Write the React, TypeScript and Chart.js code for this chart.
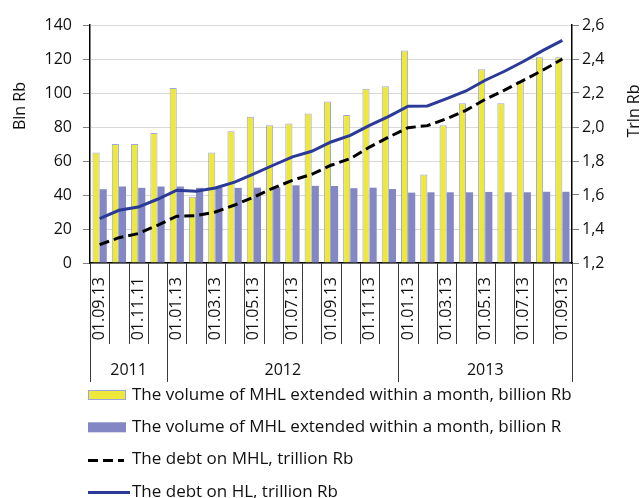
import React, { useEffect, useRef } from 'react';
import { Chart, registerables } from 'chart.js';

Chart.register(...registerables);

const tickLabels = [
  '01.09.13', '', '01.11.11', '', '01.01.13', '', '01.03.13', '', '01.05.13', '', '01.07.13', '', '01.09.13',
  '', '01.11.13', '', '01.01.13', '', '01.03.13', '', '01.05.13', '', '01.07.13', '', '01.09.13',
];
const groupLabels = ['2011', '2012', '2013'];
const groupSizes = [4, 12, 9];

const volumeYellow = [65, 70, 70, 76.5, 103, 39, 65, 77.5, 86, 81, 82, 88, 95, 87, 102.5, 104, 125, 52, 81, 94, 114, 94, 107, 121, 121];
const volumeBlue = [43.4, 45, 44.2, 45, 45, 44.2, 44.4, 44.2, 44.3, 44.6, 45.7, 45.4, 45.3, 44, 44.3, 43.5, 41.4, 41.6, 41.6, 41.6, 41.8, 41.6, 41.6, 41.9, 41.9];
const debtMHL = [1.308, 1.349, 1.373, 1.422, 1.475, 1.479, 1.5, 1.541, 1.588, 1.641, 1.686, 1.722, 1.775, 1.814, 1.882, 1.941, 1.996, 2.008, 2.049, 2.098, 2.163, 2.217, 2.276, 2.335, 2.4];
const debtHL = [1.461, 1.51, 1.529, 1.575, 1.628, 1.622, 1.641, 1.676, 1.724, 1.775, 1.824, 1.857, 1.912, 1.951, 2.01, 2.063, 2.122, 2.124, 2.167, 2.212, 2.275, 2.328, 2.387, 2.451, 2.51];

const seriesNames = [
  'The volume of MHL extended within a month, billion Rb',
  'The volume of MHL extended within a month, billion R',
  'The debt on MHL, trillion Rb',
  'The debt on HL, trillion Rb',
];
const leftTitle = 'Bln Rb';
const rightTitle = 'Trln Rb';

const FONT = '"Open Sans", sans-serif';
const TEXT = '#111111';
const YELLOW = '#EEE83A';
const YELLOW_BORDER = '#9EA5D8';
const BLUE = '#8387C3';
const NAVY = '#2B3A98';

const decor = {
  id: 'decor',
  afterDraw(chart: any) {
    const { ctx, chartArea } = chart;
    const x = chart.scales.x;
    const n = chart.data.labels.length;
    const w = x.getPixelForValue(1) - x.getPixelForValue(0);
    const bound = (i: number) => x.getPixelForValue(i) - w / 2;
    const groupBounds: number[] = [0];
    groupSizes.forEach((s) => groupBounds.push(groupBounds[groupBounds.length - 1] + s));
    const bottom = chartArea.bottom;

    ctx.save();
    ctx.strokeStyle = '#3a3a3a';
    ctx.lineWidth = 1;
    for (let i = 0; i <= n; i++) {
      const isLong = groupBounds.includes(i);
      const xx = Math.round(bound(i)) + 0.5;
      ctx.beginPath();
      ctx.moveTo(xx, bottom);
      ctx.lineTo(xx, bottom + (isLong ? 119 : 81));
      ctx.stroke();
    }

    ctx.fillStyle = TEXT;
    ctx.font = `16px ${FONT}`;
    ctx.textAlign = 'center';
    ctx.textBaseline = 'middle';
    groupLabels.forEach((g, k) => {
      const cx = (bound(groupBounds[k]) + bound(groupBounds[k + 1])) / 2;
      ctx.fillText(g, cx, bottom + 107);
    });

    // axis titles
    ctx.save();
    ctx.translate(20, 106);
    ctx.rotate(-Math.PI / 2);
    ctx.fillText(leftTitle, 0, 0);
    ctx.restore();
    ctx.save();
    ctx.translate(634, 111);
    ctx.rotate(-Math.PI / 2);
    ctx.fillText(rightTitle, 0, 0);
    ctx.restore();

    // legend
    ctx.textAlign = 'left';
    ctx.font = `17px ${FONT}`;
    chart.data.datasets.forEach((ds: any, i: number) => {
      const y = 395 + i * 32.3;
      if (ds.type === 'line') {
        ctx.save();
        ctx.strokeStyle = ds.borderColor;
        ctx.lineWidth = 3;
        ctx.setLineDash(ds.borderDash || []);
        ctx.beginPath();
        ctx.moveTo(88, Math.round(y) + 0.5);
        ctx.lineTo(ds.borderDash ? 124 : 130, Math.round(y) + 0.5);
        ctx.stroke();
        ctx.restore();
      } else {
        ctx.fillStyle = ds.backgroundColor;
        ctx.fillRect(88, y - 5, 38, 10);
        if (ds.borderWidth) {
          ctx.strokeStyle = ds.borderColor;
          ctx.lineWidth = 1;
          ctx.strokeRect(88.5, y - 4.5, 37, 9);
        }
      }
      ctx.fillStyle = TEXT;
      ctx.fillText(ds.label, 132, y);
    });
    ctx.restore();
  },
};

export default function App() {
  const ref = useRef<HTMLCanvasElement>(null);
  useEffect(() => {
    if (!ref.current) return;
    const chart = new Chart(ref.current, {
      type: 'bar',
      data: {
        labels: tickLabels,
        datasets: [
          {
            type: 'bar',
            label: seriesNames[0],
            data: volumeYellow,
            backgroundColor: YELLOW,
            borderColor: YELLOW_BORDER,
            borderWidth: 1,
            yAxisID: 'y',
            order: 2,
          },
          {
            type: 'bar',
            label: seriesNames[1],
            data: volumeBlue,
            backgroundColor: BLUE,
            borderWidth: 0,
            yAxisID: 'y',
            order: 2,
          },
          {
            type: 'line',
            label: seriesNames[2],
            data: debtMHL,
            borderColor: '#000000',
            borderWidth: 3,
            borderDash: [10, 5],
            pointRadius: 0,
            tension: 0,
            yAxisID: 'y1',
            order: 1,
          },
          {
            type: 'line',
            label: seriesNames[3],
            data: debtHL,
            borderColor: NAVY,
            borderWidth: 3,
            pointRadius: 0,
            tension: 0,
            yAxisID: 'y1',
            order: 1,
          },
        ] as any,
      },
      options: {
        responsive: false,
        animation: false,
        devicePixelRatio: 1,
        layout: { padding: { top: 25, left: 0, right: 0, bottom: 0 } },
        plugins: { legend: { display: false }, tooltip: { enabled: false } },
        datasets: { bar: { categoryPercentage: 0.74, barPercentage: 1 } },
        scales: {
          x: {
            grid: { display: true, drawOnChartArea: false, drawTicks: false },
            border: { display: true, color: '#000', width: 1.5 },
            ticks: {
              autoSkip: false,
              maxRotation: 90,
              minRotation: 90,
              padding: 14,
              color: TEXT,
              font: { family: FONT, size: 16 },
            },
            afterFit: (s: any) => {
              s.height = 235;
            },
          },
          y: {
            position: 'left',
            min: 0,
            max: 140,
            ticks: { stepSize: 20, padding: 11, color: TEXT, font: { family: FONT, size: 16 } },
            grid: { color: '#D9D9D9', lineWidth: 1, tickLength: 7, tickColor: '#808080' },
            border: { color: '#000', width: 1.5 },
            afterFit: (s: any) => {
              s.width = 90;
            },
          },
          y1: {
            position: 'right',
            min: 1.2,
            max: 2.6,
            ticks: {
              stepSize: 0.2,
              padding: 3,
              color: TEXT,
              font: { family: FONT, size: 16 },
              callback: (v: any) => Number(v).toFixed(1).replace('.', ','),
            },
            grid: { drawOnChartArea: false, tickLength: 7, tickColor: '#808080' },
            border: { color: '#000', width: 1.5 },
            afterFit: (s: any) => {
              s.width = 70;
            },
          },
        },
      } as any,
      plugins: [decor],
    });
    return () => chart.destroy();
  }, []);
  return (
    <div style={{ position: 'absolute', left: 0, top: 0, width: 642, height: 498, background: '#fff' }}>
      <canvas ref={ref} width={642} height={498} style={{ display: 'block' }} />
    </div>
  );
}
